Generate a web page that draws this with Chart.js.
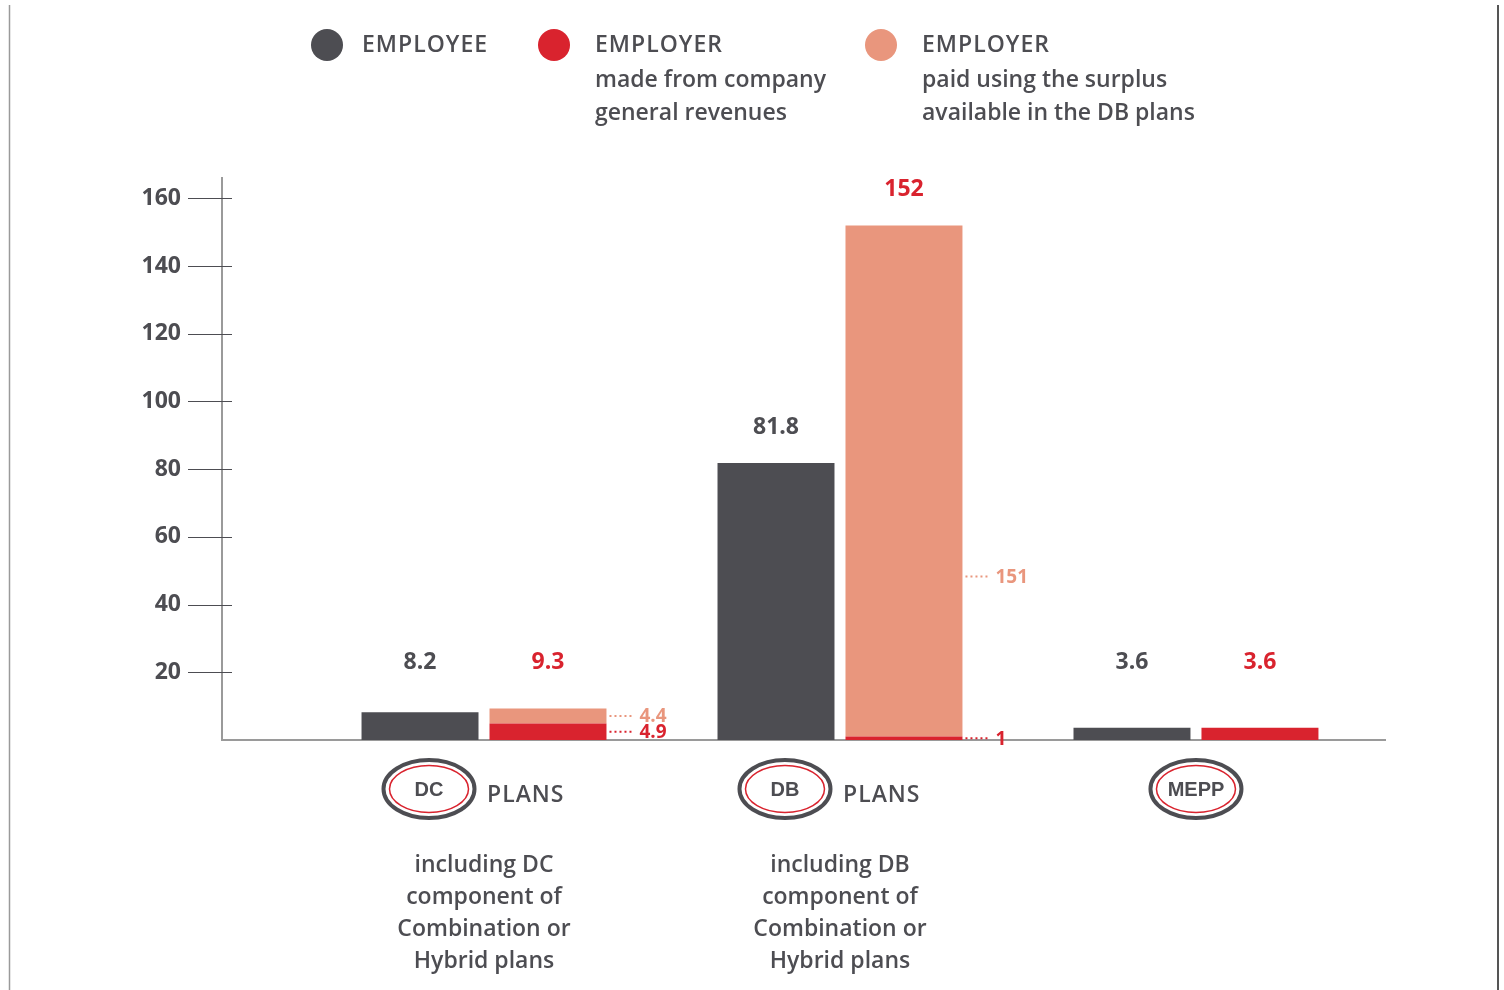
<!DOCTYPE html>
<html>
<head>
<meta charset="utf-8">
<script src="https://cdn.jsdelivr.net/npm/chart.js@4.4.1/dist/chart.umd.min.js"></script>
<style>
  body { margin: 0; background: #fff; }
  #wrap { width: 1504px; height: 990px; position: relative; }
</style>
</head>
<body>
<div id="wrap"><canvas id="planChart" width="1504" height="990"></canvas></div>
<script>
// plan types along the x axis
const planTypes = ['DC', 'DB', 'MEPP'];
const planSuffix = ['PLANS', 'PLANS', ''];
const planNotes = [
    ['including DC', 'component of', 'Combination or', 'Hybrid plans'],
    ['including DB', 'component of', 'Combination or', 'Hybrid plans'],
    []
];
// contributions ($ billions)
const employeeValues = [8.2, 81.8, 3.6];
const employerGeneral = [4.9, 1, 3.6];
const employerSurplus = [4.4, 151, null];
const yTicks = [20, 40, 60, 80, 100, 120, 140, 160];

const GRAY = '#4d4d52';
const RED = '#d9232e';
const SALMON = '#e9967d';
const FONT = '"Open Sans", "DejaVu Sans", sans-serif';

function fmt(v) {
    return String(Math.round(v * 10) / 10);
}

const employerTotals = employerGeneral.map((v, i) => (v || 0) + (employerSurplus[i] || 0));

// page frame, legend, bar labels, badges
const decorPlugin = {
    id: 'decor',
    beforeDraw(chart) {
        const ctx = chart.ctx;
        ctx.save();
        ctx.fillStyle = '#fff';
        ctx.fillRect(0, 0, chart.width, chart.height);
        ctx.lineWidth = 1.5;
        ctx.strokeStyle = '#9a9a9a';
        ctx.beginPath(); ctx.moveTo(9.5, 5); ctx.lineTo(9.5, 990); ctx.stroke();
        ctx.lineWidth = 2;
        ctx.strokeStyle = '#555';
        ctx.beginPath(); ctx.moveTo(1498, 5); ctx.lineTo(1498, 990); ctx.stroke();
        ctx.restore();
    },
    afterDraw(chart) {
        const ctx = chart.ctx;
        const xs = chart.scales.x, ys = chart.scales.y;
        ctx.save();

        // y tick marks crossing the axis
        ctx.strokeStyle = GRAY;
        ctx.lineWidth = 1.2;
        yTicks.forEach(t => {
            const y = Math.round(ys.getPixelForValue(t)) + 0.5;
            ctx.beginPath(); ctx.moveTo(xs.left - 34, y); ctx.lineTo(xs.left + 10, y); ctx.stroke();
        });

        // legend
        const legendX = [327, 554, 881];
        chart.data.datasets.forEach((ds, i) => {
            const cx = legendX[i];
            const tx = cx + (i === 0 ? 35 : 41);
            ctx.fillStyle = ds.backgroundColor;
            ctx.beginPath(); ctx.arc(cx, 45, 16, 0, Math.PI * 2); ctx.fill();
            const lines = ds.label;
            ctx.fillStyle = GRAY;
            ctx.textBaseline = 'middle';
            ctx.textAlign = 'left';
            ctx.font = '600 23px ' + FONT;
            ctx.letterSpacing = '1px';
            ctx.fillText(lines[0], tx, 45);
            ctx.letterSpacing = '0px';
            for (let k = 1; k < lines.length; k++) {
                ctx.fillText(lines[k], tx, 47 + 33 * k);
            }
        });

        // totals above bars
        const labelFloor = ys.getPixelForValue(23);
        ctx.font = 'bold 23px ' + FONT;
        ctx.textAlign = 'center';
        ctx.textBaseline = 'middle';
        const m0 = chart.getDatasetMeta(0);
        const m1 = chart.getDatasetMeta(1);
        const m2 = chart.getDatasetMeta(2);
        planTypes.forEach((p, i) => {
            const b0 = m0.data[i];
            ctx.fillStyle = GRAY;
            ctx.fillText(fmt(employeeValues[i]), b0.x, Math.min(b0.y - 36, labelFloor));
            const top = employerSurplus[i] ? m2.data[i].y : m1.data[i].y;
            ctx.fillStyle = RED;
            ctx.fillText(fmt(employerTotals[i]), m1.data[i].x, Math.min(top - 36, labelFloor));
        });

        // side annotations for split employer bars
        ctx.font = 'bold 19px ' + FONT;
        ctx.textAlign = 'left';
        planTypes.forEach((p, i) => {
            if (!employerSurplus[i]) return;
            [[m1, employerGeneral, RED], [m2, employerSurplus, SALMON]].forEach(([meta, vals, col]) => {
                const bar = meta.data[i];
                const h = bar.base - bar.y;
                const y = bar.base - Math.min(h / 2, 160);
                const right = bar.x + bar.width / 2;
                ctx.strokeStyle = col;
                ctx.fillStyle = col;
                ctx.lineWidth = 2;
                ctx.setLineDash([2, 3]);
                ctx.beginPath(); ctx.moveTo(right + 3, y); ctx.lineTo(right + 28, y); ctx.stroke();
                ctx.setLineDash([]);
                ctx.fillText(fmt(vals[i]), right + 33, y + 1);
            });
        });

        // plan badges and notes under the axis
        planTypes.forEach((p, i) => {
            const gx = xs.getPixelForValue(i + 1);
            const bx = planSuffix[i] ? gx - 55 : gx;
            const by = 789;
            ctx.lineWidth = 4;
            ctx.strokeStyle = GRAY;
            ctx.beginPath(); ctx.ellipse(bx, by, 45.5, 29, 0, 0, Math.PI * 2); ctx.stroke();
            ctx.lineWidth = 1.5;
            ctx.strokeStyle = RED;
            ctx.beginPath(); ctx.ellipse(bx, by, 39.5, 23.5, 0, 0, Math.PI * 2); ctx.stroke();
            ctx.fillStyle = GRAY;
            ctx.textAlign = 'center';
            ctx.textBaseline = 'middle';
            ctx.font = 'bold 20px "Liberation Sans", Arial, sans-serif';
            ctx.fillText(p, bx, by + 1);
            if (planSuffix[i]) {
                ctx.textAlign = 'left';
                ctx.font = '600 23px ' + FONT;
                ctx.letterSpacing = '1px';
                ctx.fillText(planSuffix[i], gx + 3, by + 6);
                ctx.letterSpacing = '0px';
            }
            ctx.textAlign = 'center';
            ctx.font = '600 23px ' + FONT;
            planNotes[i].forEach((line, k) => {
                ctx.fillText(line, gx, 865 + 32 * k);
            });
        });
        ctx.restore();
    }
};

new Chart(document.getElementById('planChart').getContext('2d'), {
    type: 'bar',
    data: {
        datasets: [
            {
                label: ['EMPLOYEE'],
                data: employeeValues.map((v, i) => ({ x: i + 1, y: v })),
                backgroundColor: GRAY,
                stack: 'employee'
            },
            {
                label: ['EMPLOYER', 'made from company', 'general revenues'],
                data: employerGeneral.map((v, i) => ({ x: i + 1, y: v })),
                backgroundColor: RED,
                stack: 'employer'
            },
            {
                label: ['EMPLOYER', 'paid using the surplus', 'available in the DB plans'],
                data: employerSurplus.map((v, i) => ({ x: i + 1, y: v })),
                backgroundColor: SALMON,
                stack: 'employer'
            }
        ]
    },
    options: {
        responsive: false,
        animation: false,
        categoryPercentage: 0.719,
        barPercentage: 0.914,
        layout: { padding: { top: 178, right: 119, left: 0, bottom: 0 } },
        plugins: {
            legend: { display: false },
            tooltip: { enabled: false }
        },
        scales: {
            x: {
                type: 'linear',
                stacked: true,
                offset: false,
                min: 0.264,
                max: 3.531,
                afterBuildTicks(scale) {
                    scale.ticks = planTypes.map((p, i) => ({ value: i + 1 }));
                },
                ticks: { display: false },
                grid: { display: false, drawTicks: false, offset: false },
                border: { display: true, color: '#9a9a9a', width: 2 },
                afterFit(scale) { scale.height = 250; }
            },
            y: {
                stacked: true,
                min: 0,
                max: 166,
                ticks: {
                    stepSize: 20,
                    padding: 41,
                    color: GRAY,
                    font: { family: FONT, size: 23, weight: 'bold' }
                },
                afterBuildTicks(scale) {
                    scale.ticks = yTicks.map(v => ({ value: v }));
                },
                grid: { drawOnChartArea: false, drawTicks: false },
                border: { display: true, color: '#9a9a9a', width: 2 },
                afterFit(scale) { scale.width = 222; }
            }
        }
    },
    plugins: [decorPlugin]
});
</script>
</body>
</html>
